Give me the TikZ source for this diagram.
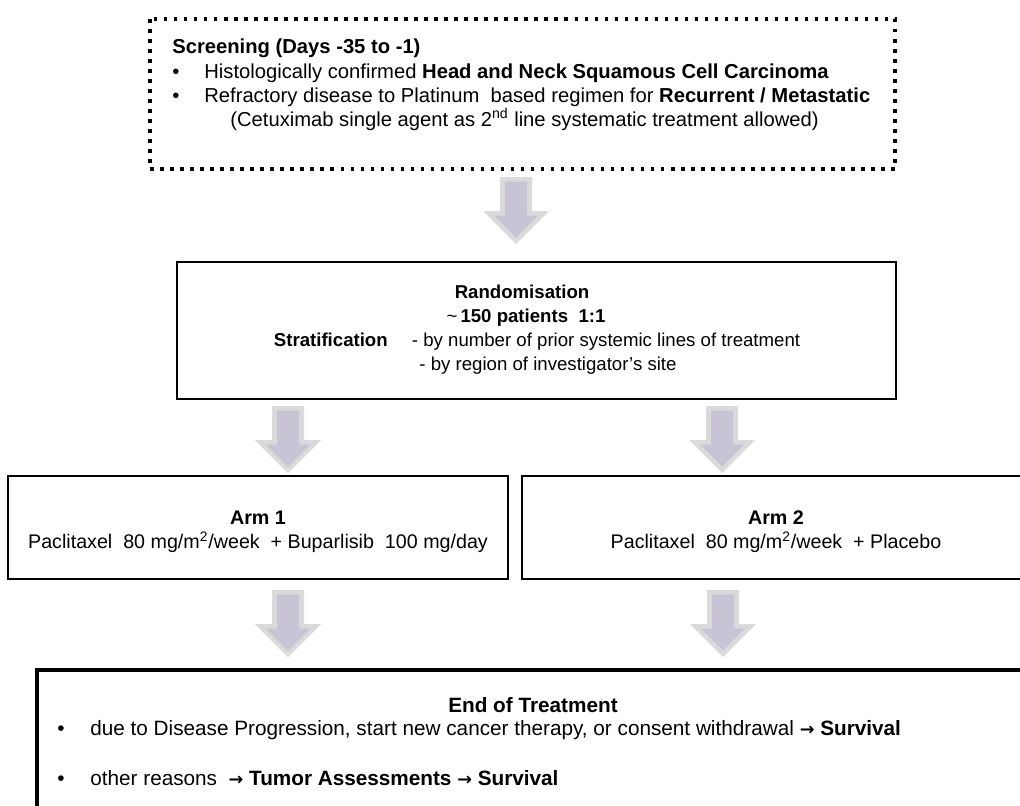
\documentclass[tikz,border=0pt]{standalone}
\usepackage{fontspec}
\setmainfont{Liberation Sans}
\newfontfamily\arrowfont{DejaVu Sans}
\usetikzlibrary{positioning}

\definecolor{arrowfill}{RGB}{200,195,213}
\definecolor{arrowedge}{RGB}{218,218,218}

\newcommand{\thento}{{\arrowfont\bfseries\fontsize{10pt}{10pt}\selectfont →}}
\newcommand{\bul}{\makebox[0.64cm][l]{•}}

\tikzset{
  txt/.style={inner sep=0pt, font=\fontsize{10.6pt}{13pt}\selectfont},
  toptxt/.style={txt, font=\fontsize{11.5pt}{14pt}\selectfont},
  armtxt/.style={txt, font=\fontsize{11.2pt}{14pt}\selectfont},
  endtxt/.style={txt, font=\fontsize{11.8pt}{14pt}\selectfont},
  box/.style={draw, line width=1.1pt},
  thickbox/.style={draw, line width=2.3pt},
  dotbox/.style={draw, line width=2pt, dash pattern=on 2pt off 3.7pt},
  fatarrow/.pic={
    \fill [arrowedge] (-16,0) -- (16,0) -- (16,34) -- (33,34) -- (0,67) -- (-33,34) -- (-16,34) -- cycle;
    \fill [arrowfill] (-11,4.5) -- (11,4.5) -- (11,38.5) -- (22,38.5) -- (0,60.5) -- (-22,38.5) -- (-11,38.5) -- cycle;
  }
}

\begin{document}
\begin{tikzpicture}[x=0.02cm, y=-0.02cm]
        \useasboundingbox (0,0) rectangle (1020,805);
        \clip (0,0) rectangle (1020,805);

        % screening
        \draw [dotbox] (150,19) rectangle (895,169);
        \node [toptxt, anchor=base west] (scrHead) at (172,53)  {\textbf{Screening (Days -35 to -1)}};
        \node [toptxt, anchor=base west] (scrA)    at (172,78)  {\bul Histologically confirmed \textbf{Head and Neck Squamous Cell Carcinoma}};
        \node [toptxt, anchor=base west] (scrB)    at (172,102) {\bul Refractory disease to Platinum\ \ based regimen for \textbf{Recurrent / Metastatic}};
        \node [toptxt, anchor=base west] (scrC)    at (230,126) {(Cetuximab single agent as 2\textsuperscript{nd} line systematic treatment allowed)};

        \pic at (516,177) {fatarrow};

        % randomisation
        \draw [box] (177,262) rectangle (896,399);
        \node [txt, anchor=base] (randHead) at (522,298) {\textbf{Randomisation}};
        \node [txt, anchor=base] (randN)    at (526,322) {\textasciitilde\,\textbf{150 patients\ \ 1:1}};
        \node [txt, anchor=base] (stratA)   at (537,346) {\textbf{Stratification}\hspace{1.3em}- by number of prior systemic lines of treatment};
        \node [txt, anchor=base] (stratB)   at (548,370) {- by region of investigator’s site};

        \pic at (288,406) {fatarrow};
        \pic at (722,406) {fatarrow};

        % arms
        \draw [box] (8,476) rectangle (508,579);
        \node [armtxt, anchor=base] (armOneHead) at (258,524) {\textbf{Arm 1}};
        \node [armtxt, anchor=base] (armOneDose) at (258,548) {Paclitaxel\ \ 80\ mg/m\textsuperscript{2}/week\ \ + Buparlisib\ \ 100\ mg/day};

        \draw [box] (522,476) rectangle (1040,579);
        \node [armtxt, anchor=base] (armTwoHead) at (776,524) {\textbf{Arm 2}};
        \node [armtxt, anchor=base] (armTwoDose) at (776,548) {Paclitaxel\ \ 80\ mg/m\textsuperscript{2}/week\ \ + Placebo};

        \pic at (288,590) {fatarrow};
        \pic at (723,590) {fatarrow};

        % end of treatment
        \draw [thickbox] (37,670) rectangle (1060,840);
        \node [endtxt, anchor=base] (eotHead) at (533,712) {\textbf{End of Treatment}};
        \node [endtxt, anchor=base west] (eotA) at (57,735) {\makebox[0.66cm][l]{•}due to Disease Progression, start new cancer therapy, or consent withdrawal\ \thento\ \textbf{Survival}};
        \node [endtxt, anchor=base west] (eotB) at (57,785) {\makebox[0.66cm][l]{•}other reasons\ \ \thento\ \textbf{Tumor Assessments}\ \thento\ \textbf{Survival}};
\end{tikzpicture}
\end{document}
